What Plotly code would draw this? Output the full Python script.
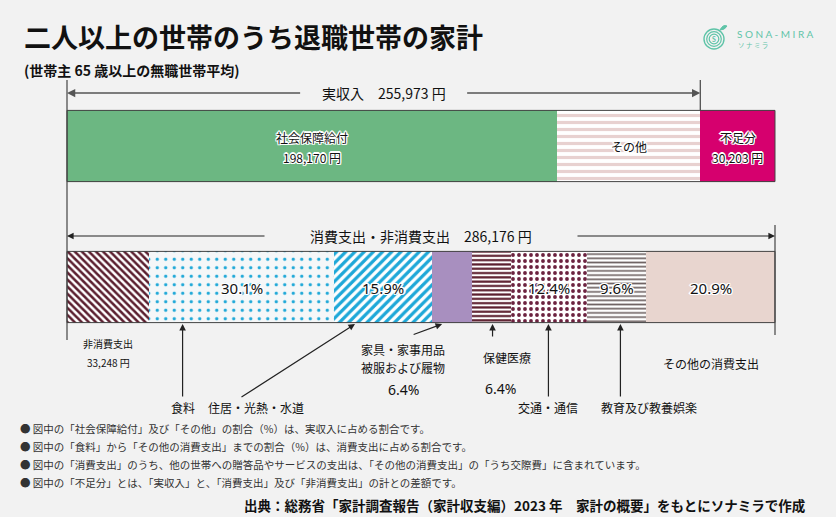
import plotly.graph_objects as go

# ---------------- data ----------------
income_labels = ["社会保障給付", "その他", "不足分"]
income_values = [198170, 57803, 30203]          # 円
actual_income = 255973                          # 実収入
outflow_total = 286176                          # 消費支出・非消費支出
non_consumption = 33248                         # 非消費支出
consumption_labels = ["食料", "住居・光熱・水道", "家具・家事用品・被服および履物",
                      "保健医療", "交通・通信", "教育及び教養娯楽", "その他の消費支出"]
consumption_pct = [30.1, 15.9, 6.4, 6.4, 12.4, 9.6, 20.9]   # % of 消費支出
footnotes = [
    "● 図中の「社会保障給付」及び「その他」の割合（%）は、実収入に占める割合です。",
    "● 図中の「食料」から「その他の消費支出」までの割合（%）は、消費支出に占める割合です。",
    "● 図中の「消費支出」のうち、他の世帯への贈答品やサービスの支出は、「その他の消費支出」の「うち交際費」に含まれています。",
    "● 図中の「不足分」とは、「実収入」と、「消費支出」及び「非消費支出」の計との差額です。",
]

# ---------------- layout helpers ----------------
W, H = 836, 517
BG = "#f2f2f2"
JP = "Noto Sans CJK JP"
X0, X1 = 67, 775
scale = (X1 - X0) / outflow_total
xrange = [-X0 / scale, (W - X0) / scale]


def px_of(v):
    return X0 + v * scale


ROW_TOP_PX, ROW_BOT_PX = 146, 287
unit = ROW_BOT_PX - ROW_TOP_PX
yrange = [1 + (H - ROW_BOT_PX) / unit, -ROW_TOP_PX / unit]
BAR_W = 0.505

consumption_total = outflow_total - non_consumption
pct_sum = sum(consumption_pct)
consumption_values = [consumption_total * p / pct_sum for p in consumption_pct]

fig = go.Figure()

# ---- top row: income ----
top_styles = [
    dict(color="#6cb782"),
    dict(color="#ffffff", pattern=dict(shape="-", fgcolor="#e8d1d0", bgcolor="#ffffff",
                                        size=7, solidity=0.45, fillmode="replace")),
    dict(color="#d6006e"),
]
for lab, val, st in zip(income_labels, income_values, top_styles):
    fig.add_trace(go.Bar(
        y=["収入"], x=[val], orientation="h", width=BAR_W, name=lab,
        marker=dict(line=dict(width=0), **st),
        hoverinfo="skip", showlegend=False))

# ---- bottom row: spending ----
fig.add_trace(go.Bar(
    y=["支出"], x=[non_consumption], orientation="h", width=BAR_W, name="非消費支出",
    marker=dict(color="#ffffff", line=dict(width=0),
                pattern=dict(shape="\\", fgcolor="#5b1f2f", bgcolor="#ffffff",
                             size=5, solidity=0.5, fillmode="replace")),
    hoverinfo="skip", showlegend=False))

bottom_styles = [
    dict(pattern=dict(shape=".", fgcolor="#1ea8d8", bgcolor="#f5f7f8", size=8.5, solidity=0.12, fillmode="replace")),
    dict(pattern=dict(shape="/", fgcolor="#1ea8d8", bgcolor="#ffffff", size=6.5, solidity=0.5, fillmode="replace")),
    dict(color="#a88fbf"),
    dict(pattern=dict(shape="-", fgcolor="#5a1c2c", bgcolor="#ffffff", size=4.3, solidity=0.5, fillmode="replace")),
    dict(pattern=dict(shape=".", fgcolor="#6c2340", bgcolor="#ffffff", size=6, solidity=0.32, fillmode="replace")),
    dict(pattern=dict(shape="-", fgcolor="#706464", bgcolor="#ffffff", size=4.2, solidity=0.4, fillmode="replace")),
    dict(color="#e8d5cf"),
]
for lab, val, st in zip(consumption_labels, consumption_values, bottom_styles):
    mk = dict(line=dict(width=0))
    if "color" not in st:
        mk["color"] = "#ffffff"
    mk.update(st)
    fig.add_trace(go.Bar(
        y=["支出"], x=[val], orientation="h", width=BAR_W, name=lab,
        marker=mk, hoverinfo="skip", showlegend=False))

# invisible anchor trace for the pixel overlay axes
fig.add_trace(go.Scatter(x=[0], y=[0], xaxis="x2", yaxis="y2", mode="markers",
                         marker=dict(opacity=0), hoverinfo="skip", showlegend=False))

shapes = []
ann = []
LINE = "#444"

# outlines of the two bars
for row, total in ((0, sum(income_values)), (1, non_consumption + sum(consumption_values))):
    shapes.append(dict(type="rect", xref="x", yref="y", x0=0, x1=total,
                       y0=row - BAR_W / 2, y1=row + BAR_W / 2,
                       line=dict(color=LINE, width=1), layer="above"))


def vline(x, y0, y1, color=LINE, width=1.2):
    shapes.append(dict(type="line", xref="x2", yref="y2", x0=x, x1=x, y0=y0, y1=y1,
                       line=dict(color=color, width=width)))


def arrow(xt, yt, xh, yh, color="#222", width=1.2):
    ann.append(dict(xref="x2", yref="y2", axref="x2", ayref="y2", x=xh, y=yh, ax=xt, ay=yt,
                    text="", showarrow=True, arrowhead=2, arrowsize=1.1, arrowwidth=width,
                    arrowcolor=color, standoff=0, startstandoff=0))


def txt(x, y, s, size=12, bold=False, xanchor="center", color="#111", family=JP):
    f = dict(family=family, size=size, color=color)
    ann.append(dict(xref="x2", yref="y2", x=x, y=y, text=f"<b>{s}</b>" if bold else s,
                    showarrow=False, xanchor=xanchor, yanchor="middle", font=f))


HALO_OFFS = [(-1.3, 0), (1.3, 0), (0, -1.3), (0, 1.3), (-1, -1), (1, 1), (-1, 1), (1, -1)]


def halo_txt(x, y, s, size=12, family=JP):
    for dx, dy in HALO_OFFS:
        txt(x + dx, y + dy, s, size=size, color="#ffffff", family=family)
    txt(x, y, s, size=size, color="#111", family=family)


# labels inside the income bar (centred on each segment)
acc = 0
top_centres = []
for v in income_values:
    top_centres.append(px_of(acc + v / 2))
    acc += v
halo_txt(top_centres[0], 137, income_labels[0])
halo_txt(top_centres[0], 157, f"{income_values[0]:,} 円")
halo_txt(top_centres[1], 146, income_labels[1])
halo_txt(top_centres[2], 137, income_labels[2])
halo_txt(top_centres[2], 157, f"{income_values[2]:,} 円")

# boundary lines
vline(X0, 80, 340)
vline(px_of(actual_income), 80, 110)
vline(px_of(outflow_total), 225, 335)

# 実収入 range arrow
xa = px_of(actual_income)
cx = (X0 + xa) / 2
txt(cx, 93, f"実収入　{actual_income:,} 円", size=14)
arrow(cx - 82, 93, X0, 93, color="#555", width=1.5)
arrow(cx + 82, 93, xa, 93, color="#555", width=1.5)

# 消費支出・非消費支出 range arrow
xb = px_of(outflow_total)
cx2 = (X0 + xb) / 2
txt(cx2, 236, f"消費支出・非消費支出　{outflow_total:,} 円", size=14)
arrow(cx2 - 155, 236, X0, 236, color="#222", width=1.2)
arrow(cx2 + 155, 236, xb, 236, color="#222", width=1.2)

# segment positions along the bottom bar
starts = []
acc = non_consumption
for v in consumption_values:
    starts.append(acc)
    acc += v
seg = [(px_of(s), px_of(s + v)) for s, v in zip(starts, consumption_values)]


def at(i, frac):
    a, b = seg[i]
    return a + (b - a) * frac


# percentage labels inside the spending bar
for i in (0, 1, 4, 5, 6):
    halo_txt(at(i, 0.5), 288, f"{consumption_pct[i]}%", size=15, family="Noto Sans")

HEAD_Y = 324
# 非消費支出
nc_c = px_of(non_consumption / 2)
txt(nc_c, 343, "非消費支出", size=10)
txt(nc_c, 362, f"{non_consumption:,} 円", size=10)
# 食料
x = at(0, 0.18)
arrow(x, 398, x, HEAD_Y)
txt(x, 407, consumption_labels[0], size=12)
# 住居・光熱・水道
x = at(1, 0.21)
arrow(x - 115, 398, x, HEAD_Y)
txt(x - 99, 407, consumption_labels[1], size=12)
# 家具・家事用品・被服および履物
x = at(2, 0.25)
arrow(x - 30, 335, x, HEAD_Y)
txt(x - 39, 349, "家具・家事用品", size=12)
txt(x - 39, 367, "被服および履物", size=12)
txt(x - 39, 389, f"{consumption_pct[2]}%", size=14, family="Noto Sans")
# 保健医療
x = at(3, 0.53)
arrow(x, 338, x, HEAD_Y)
txt(x + 14, 357, consumption_labels[3], size=12)
txt(x + 8, 388, f"{consumption_pct[3]}%", size=14, family="Noto Sans")
# 交通・通信
x = at(4, 0.49)
arrow(x, 398, x, HEAD_Y)
txt(x, 407, consumption_labels[4], size=12)
# 教育及び教養娯楽
x = at(5, 0.56)
arrow(x, 398, x, HEAD_Y)
txt(x + 29, 407, consumption_labels[5], size=12)
# その他の消費支出
txt(at(6, 0.5), 363, consumption_labels[6], size=12)

# title and subtitle
txt(22, 36, "二人以上の世帯のうち退職世帯の家計", size=27, bold=True, xanchor="left")
txt(22, 70, "(世帯主 65 歳以上の無職世帯平均)", size=14, bold=True, xanchor="left")

# footnotes
for i, s in enumerate(footnotes):
    txt(18, 428 + 18 * i, s, size=10.5, xanchor="left", color="#333")
txt(808, 505, "出典：総務省「家計調査報告（家計収支編）2023 年　家計の概要」をもとにソナミラで作成",
    size=13.5, bold=True, xanchor="right")

# logo
TEAL = "#5fc4a8"
lx, ly = 714, 39
for r, w in ((10, 1.4), (7.3, 1.2), (4.8, 1.2)):
    shapes.append(dict(type="circle", xref="x2", yref="y2", x0=lx - r, x1=lx + r,
                       y0=ly - r, y1=ly + r, line=dict(color=TEAL, width=w)))
shapes.append(dict(type="path", xref="x2", yref="y2",
                   path=f"M {lx+6},{ly-9} Q {lx+9},{ly-15} {lx+13},{ly-13} Q {lx+11},{ly-9} {lx+6},{ly-9} Z",
                   fillcolor=TEAL, line=dict(color=TEAL, width=1)))
txt(lx, ly, "S", size=7, color=TEAL, family="Lato", bold=True)
txt(735, 34, "S O N A - M I R A", size=10, color=TEAL, family="Lato", xanchor="left")
txt(736, 45, "ソ ナ ミ ラ", size=6.5, color=TEAL, xanchor="left")

fig.update_layout(
    width=W, height=H, margin=dict(l=0, r=0, t=0, b=0),
    paper_bgcolor=BG, plot_bgcolor=BG, barmode="stack", showlegend=False,
    xaxis=dict(range=xrange, visible=False, fixedrange=True),
    yaxis=dict(type="category", categoryarray=["収入", "支出"], range=yrange,
               visible=False, fixedrange=True),
    xaxis2=dict(range=[0, W], overlaying="x", visible=False, fixedrange=True),
    yaxis2=dict(range=[H, 0], overlaying="y", visible=False, fixedrange=True),
    shapes=shapes, annotations=ann,
)

fig.write_html("out.html")
